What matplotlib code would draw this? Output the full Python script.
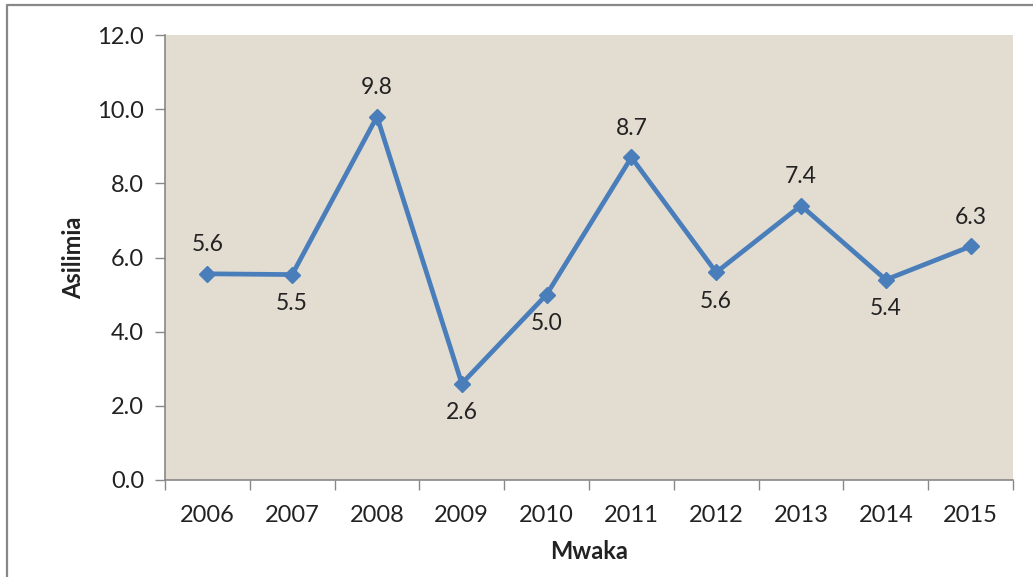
import matplotlib
matplotlib.use("Agg")
import matplotlib.pyplot as plt
from matplotlib.lines import Line2D

years = ["2006", "2007", "2008", "2009", "2010", "2011", "2012", "2013", "2014", "2015"]
values = [5.56, 5.54, 9.8, 2.6, 5.0, 8.7, 5.6, 7.4, 5.4, 6.3]
label_above = [True, False, True, False, False, True, False, True, False, True]
y_ticks = [0.0, 2.0, 4.0, 6.0, 8.0, 10.0, 12.0]

plt.rcParams['font.family'] = ['Lato', 'DejaVu Sans']

fig = plt.figure(figsize=(10.33, 5.77), dpi=100)
fig.patch.set_facecolor('white')
ax = fig.add_axes([165/1033, 97/577, (1013-165)/1033, (480-35)/577])
ax.set_facecolor('#E3DCD1')

x = list(range(len(years)))
ax.plot(x, values, color='#4A7EBB', lw=3.4, marker='D', markersize=8,
        markerfacecolor='#4A7EBB', markeredgecolor='#4A7EBB', solid_joinstyle='miter')

for xi, v, up in zip(x, values, label_above):
    ax.annotate(f"{v:.1f}", (xi, v), xytext=(0, 21 if up else -21), textcoords='offset points',
                ha='center', va='center', fontsize=16.5, color='#222222')

ax.set_xlim(-0.5, len(years) - 0.5)
ax.set_ylim(0, 12)
ax.set_yticks(y_ticks)
ax.set_yticklabels([f"{t:.1f}" for t in y_ticks])
ax.set_xticks(x)
ax.set_xticklabels(years)
ax.set_xticks([i - 0.5 for i in range(len(years) + 1)], minor=True)
ax.tick_params(axis='x', which='major', length=0, pad=18, labelsize=17, labelcolor='#222222')
ax.tick_params(axis='x', which='minor', length=7, width=1, color='#888888', direction='out')
ax.tick_params(axis='y', length=7, width=1, color='#888888', pad=8, labelsize=17, labelcolor='#222222')

for s in ['top', 'right']:
    ax.spines[s].set_visible(False)
for s in ['left', 'bottom']:
    ax.spines[s].set_color('#888888')
    ax.spines[s].set_linewidth(1.2)

ax.set_xlabel("Mwaka", fontsize=17, fontweight='bold', labelpad=10, color='#222222')
ax.set_ylabel("Asilimia", fontsize=17, fontweight='bold', labelpad=9, color='#222222')

# outer border (top and left)
fig.add_artist(Line2D([7/1033, 7/1033, 1.0], [0.0, 1 - 5/577, 1 - 5/577],
                      transform=fig.transFigure, color='#888888', lw=1.6))

fig.savefig("out.png", dpi=100)
